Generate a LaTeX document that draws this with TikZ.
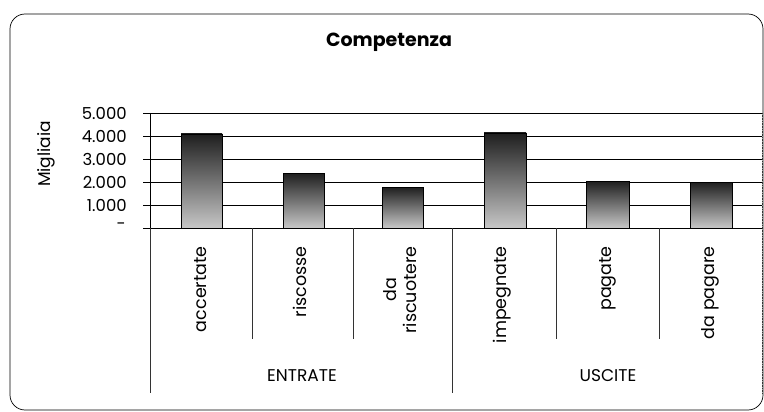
\documentclass[tikz,border=0pt]{standalone}
\usepackage{fontspec}
\setmainfont{Poppins}

\begin{document}
\begin{tikzpicture}[x=1pt,y=-1pt,
  bar/.style={draw, line width=0.8pt, top color=black!88, bottom color=black!22},
  grid/.style={line width=0.8pt},
  sep/.style={line width=0.6pt, black!80},
  ticklabel/.style={anchor=east, inner sep=0pt, font=\fontsize{16.5}{17}\selectfont},
  catlabel/.style={rotate=90, anchor=east, inner sep=0pt, align=center, font=\fontsize{17.5}{20}\selectfont}]
\useasboundingbox (0,0) rectangle (764,412);
\draw[line width=0.7pt, rounded corners=15pt] (10,14) rectangle (763,410);

% title and value axis
\node (title) at (389,42) {\fontsize{19}{20}\selectfont\bfseries Competenza};
\node[rotate=90, font=\fontsize{17}{18}\selectfont] (unit) at (46,154) {Migliaia};

% grid
\draw[grid] (143,113) -- (762,113);
\draw[grid] (143,136) -- (762,136);
\draw[grid] (143,159) -- (762,159);
\draw[grid] (143,182) -- (762,182);
\draw[grid] (143,205) -- (762,205);
\node[ticklabel] (v5) at (127,113) {5.000};
\node[ticklabel] (v4) at (127,136) {4.000};
\node[ticklabel] (v3) at (127,159) {3.000};
\node[ticklabel] (v2) at (127,182) {2.000};
\node[ticklabel] (v1) at (127,205) {1.000};
\node[ticklabel] (v0) at (126,226) {-};

% bars
\draw[bar] (181,228) rectangle (222,134);
\draw[bar] (283,228) rectangle (324,173);
\draw[bar] (382,228) rectangle (423,187);
\draw[bar] (484,228) rectangle (526,133);
\draw[bar] (586,228) rectangle (629,181);
\draw[bar] (690,228) rectangle (732,182);

% axes
\draw[grid] (150,113) -- (150,228);
\draw[sep, densely dotted] (762,113) -- (762,228);
\draw[grid] (143,228) -- (762,228);

% category axis
\draw[sep] (150,228) -- (150,393);
\draw[sep] (252,228) -- (252,339);
\draw[sep] (353,228) -- (353,339);
\draw[sep] (452,228) -- (452,393);
\draw[sep] (556,228) -- (556,339);
\draw[sep] (659,228) -- (659,339);
\draw[sep, densely dotted] (762,228) -- (762,393);

\node[catlabel] (c1) at (201,246) {accertate};
\node[catlabel] (c2) at (300,246) {riscosse};
\node[catlabel] (c3) at (400,246) {da\\riscuotere};
\node[catlabel] (c4) at (502,246) {impegnate};
\node[catlabel] (c5) at (608,246) {pagate};
\node[catlabel] (c6) at (710,246) {da pagare};

\node[font=\fontsize{17}{18}\selectfont] (g1) at (302,376) {ENTRATE};
\node[font=\fontsize{17}{18}\selectfont] (g2) at (608,376) {USCITE};
\end{tikzpicture}
\end{document}
